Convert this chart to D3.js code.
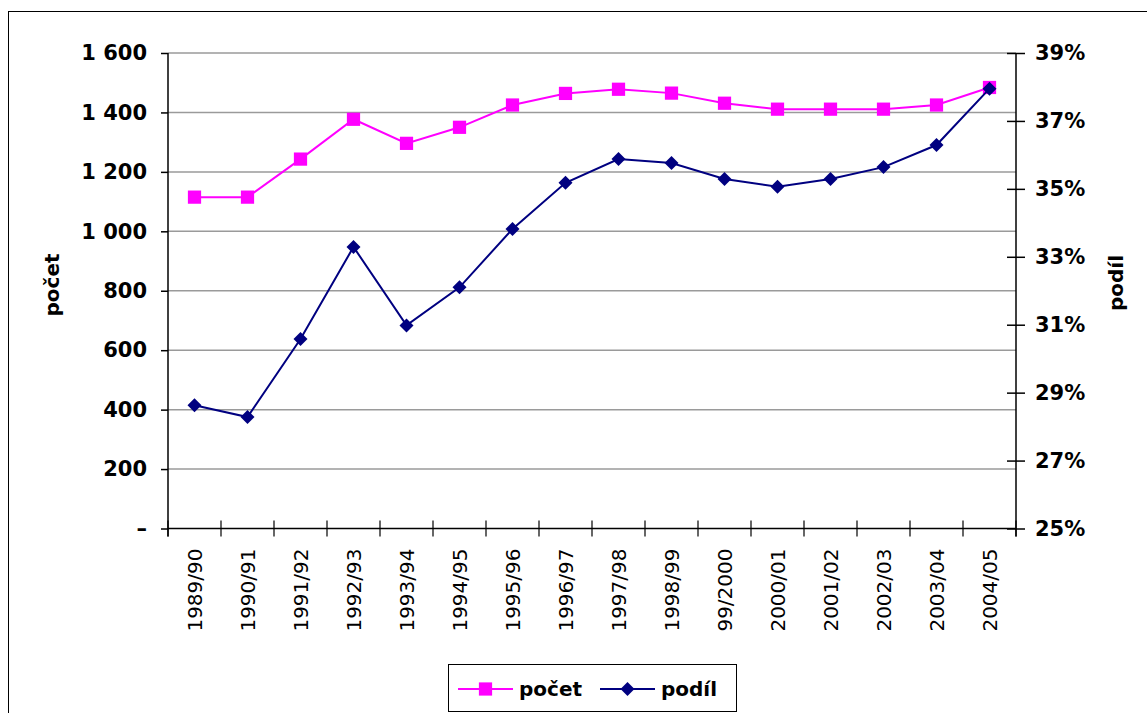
<!DOCTYPE html>
<html>
<head>
<meta charset="utf-8">
<script src="https://cdn.jsdelivr.net/npm/d3@7"></script>
<style>
  body { margin: 0; background: #fff; }
  svg { display: block; }
  text { font-family: "DejaVu Sans", Verdana, sans-serif; fill: #000; }
  .axis path { display: none; }
</style>
</head>
<body>
<svg id="chart"></svg>
<script>
// data
var categories = ["1989/90", "1990/91", "1991/92", "1992/93", "1993/94", "1994/95", "1995/96", "1996/97",
  "1997/98", "1998/99", "99/2000", "2000/01", "2001/02", "2002/03", "2003/04", "2004/05"];
var pocet = [1115, 1115, 1243, 1377, 1296, 1350, 1425, 1464, 1478, 1465, 1431, 1411, 1411, 1411, 1425, 1484];
var podil = [28.63, 28.28, 30.58, 33.29, 30.98, 32.10, 33.82, 35.18, 35.88, 35.76, 35.29, 35.06, 35.29, 35.64, 36.29, 37.95];
var leftTicks = [0, 200, 400, 600, 800, 1000, 1200, 1400, 1600];
var rightTicks = [25, 27, 29, 31, 33, 35, 37, 39];
var seriesNames = ["počet", "podíl"];

var W = 1147, H = 713;
var plotL = 168, plotR = 1016, plotT = 53, plotB = 528.5;

var svg = d3.select("#chart").attr("width", W).attr("height", H);

// outer frame (only top and left edges show)
svg.append("rect")
  .attr("x", 8.5).attr("y", 11.5)
  .attr("width", W + 20).attr("height", H + 20)
  .attr("fill", "none").attr("stroke", "#000").attr("stroke-width", 1);

var x = d3.scaleBand().domain(categories).range([plotL, plotR]);
var yL = d3.scaleLinear().domain([0, 1600]).range([plotB, plotT]);
var yR = d3.scaleLinear().domain([25, 39]).range([plotB, plotT]);
var cx = function(c) { return x(c) + x.bandwidth() / 2; };

// gridlines
svg.append("g").selectAll("line")
  .data(leftTicks.slice(1))
  .enter().append("line")
    .attr("x1", plotL).attr("x2", plotR)
    .attr("y1", function(d) { return yL(d); })
    .attr("y2", function(d) { return yL(d); })
    .attr("stroke", "#9a9a9a").attr("stroke-width", 1.5);

// left axis
var fmtLeft = function(d) {
  if (d === 0) return "–";
  return d >= 1000 ? Math.floor(d / 1000) + " " + d3.format("03d")(d % 1000) : String(d);
};
var gL = svg.append("g")
  .attr("class", "axis")
  .attr("transform", "translate(" + plotL + ",0)")
  .call(d3.axisLeft(yL).tickValues(leftTicks).tickSize(7).tickPadding(14).tickFormat(fmtLeft));
gL.selectAll("line").attr("stroke", "#000").attr("stroke-width", 1.5);
gL.selectAll("text").attr("font-size", 21).attr("font-weight", "bold")
  .attr("font-family", "DejaVu Sans");
gL.append("line").attr("y1", plotT).attr("y2", plotB + 8).attr("stroke", "#000").attr("stroke-width", 1.5);

// right axis
var gR = svg.append("g")
  .attr("class", "axis")
  .attr("transform", "translate(" + plotR + ",0)")
  .call(d3.axisRight(yR).tickValues(rightTicks).tickSize(9).tickPadding(10)
    .tickFormat(function(d) { return d + "%"; }));
gR.selectAll("line").attr("x1", -9).attr("stroke", "#000").attr("stroke-width", 1.5);
gR.selectAll("text").attr("font-size", 21).attr("font-weight", "bold")
  .attr("font-family", "DejaVu Sans");
gR.append("line").attr("y1", plotT).attr("y2", plotB + 8).attr("stroke", "#000").attr("stroke-width", 1.5);

// x axis
var gX = svg.append("g");
gX.append("line")
  .attr("x1", plotL).attr("x2", plotR).attr("y1", plotB).attr("y2", plotB)
  .attr("stroke", "#000").attr("stroke-width", 1.5);
var bounds = categories.map(function(c) { return x(c); }).concat([x.range()[1]]);
gX.selectAll(".tk").data(bounds).enter().append("line")
  .attr("class", "tk")
  .attr("x1", function(d) { return d; }).attr("x2", function(d) { return d; })
  .attr("y1", plotB - 8).attr("y2", plotB + 8)
  .attr("stroke", "#000").attr("stroke-width", 1.2);
gX.selectAll(".lb").data(categories).enter().append("text")
  .attr("class", "lb")
  .attr("transform", function(d) { return "translate(" + cx(d) + "," + (plotB + 20) + ") rotate(-90)"; })
  .attr("text-anchor", "end")
  .attr("dy", "0.36em")
  .attr("font-size", 20)
  .text(function(d) { return d; });

// axis titles
svg.append("text")
  .attr("transform", "translate(52,285) rotate(-90)")
  .attr("text-anchor", "middle").attr("dy", "0.36em")
  .attr("font-size", 20).attr("font-weight", "bold")
  .text("počet");
svg.append("text")
  .attr("transform", "translate(1116,283) rotate(-90)")
  .attr("text-anchor", "middle").attr("dy", "0.36em")
  .attr("font-size", 20).attr("font-weight", "bold")
  .text("podíl");

// počet series
var lineL = d3.line().x(function(d, i) { return cx(categories[i]); }).y(function(d) { return yL(d); });
svg.append("path").datum(pocet)
  .attr("d", lineL).attr("fill", "none").attr("stroke", "#ff00ff").attr("stroke-width", 2);
svg.append("g").selectAll("path")
  .data(pocet).enter().append("path")
    .attr("d", d3.symbol().type(d3.symbolSquare).size(175))
    .attr("transform", function(d, i) { return "translate(" + cx(categories[i]) + "," + yL(d) + ")"; })
    .attr("fill", "#ff00ff");

// podíl series
var lineR = d3.line().x(function(d, i) { return cx(categories[i]); }).y(function(d) { return yR(d); });
svg.append("path").datum(podil)
  .attr("d", lineR).attr("fill", "none").attr("stroke", "#000080").attr("stroke-width", 2);
var diamond = "M0,-7L7,0L0,7L-7,0Z";
svg.append("g").selectAll("path")
  .data(podil).enter().append("path")
    .attr("d", diamond)
    .attr("transform", function(d, i) { return "translate(" + cx(categories[i]) + "," + yR(d) + ")"; })
    .attr("fill", "#000080");

// legend
var lg = svg.append("g");
lg.append("rect")
  .attr("x", 448.5).attr("y", 664.5).attr("width", 288).attr("height", 47)
  .attr("fill", "#fff").attr("stroke", "#000").attr("stroke-width", 1);
var items = [
  { name: seriesNames[0], color: "#ff00ff", x0: 458, mark: d3.symbol().type(d3.symbolSquare).size(175)() },
  { name: seriesNames[1], color: "#000080", x0: 600, mark: diamond }
];
items.forEach(function(it) {
  lg.append("line")
    .attr("x1", it.x0).attr("x2", it.x0 + 55).attr("y1", 689).attr("y2", 689)
    .attr("stroke", it.color).attr("stroke-width", 2);
  lg.append("path").attr("d", it.mark)
    .attr("transform", "translate(" + (it.x0 + 27.5) + ",689)")
    .attr("fill", it.color);
  lg.append("text")
    .attr("x", it.x0 + 61).attr("y", 689).attr("dy", "0.36em")
    .attr("font-size", 20).attr("font-weight", "bold")
    .text(it.name);
});
</script>
</body>
</html>
